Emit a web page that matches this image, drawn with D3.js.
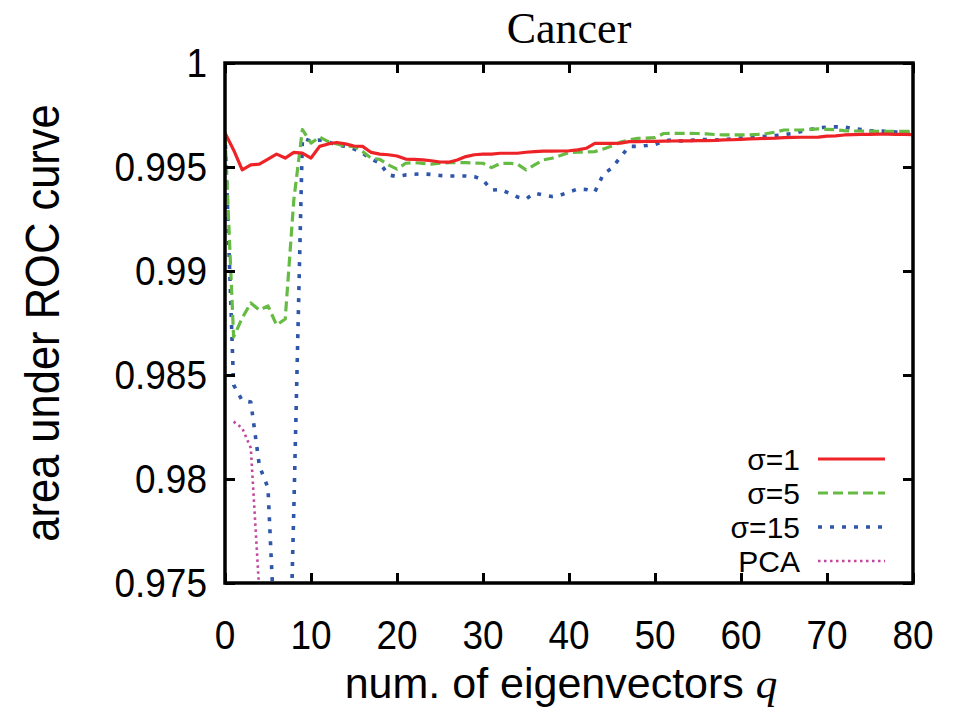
<!DOCTYPE html>
<html>
<head>
<meta charset="utf-8">
<script src="https://cdn.jsdelivr.net/npm/d3@7"></script>
<style>
  html, body { margin: 0; padding: 0; background: #fff; }
  svg { display: block; }
  .tick-label { font-family: "Liberation Sans", Arial, Helvetica, sans-serif; font-size: 37px; fill: #000; }
  .axis-title { font-family: "Liberation Sans", Arial, Helvetica, sans-serif; font-size: 43.5px; fill: #000; }
  .legend-text { font-family: "Liberation Sans", Arial, Helvetica, sans-serif; font-size: 30px; fill: #000; }
  .title { font-family: "Liberation Serif", "Times New Roman", serif; font-size: 44px; fill: #000; }
</style>
</head>
<body>
<svg id="chart" width="957" height="721"></svg>
<script>
// ---------------- DATA ----------------
const title = "Cancer";
const xTicks = [0, 10, 20, 30, 40, 50, 60, 70, 80];
const yTicks = [0.975, 0.98, 0.985, 0.99, 0.995, 1];
const yTickLabels = ["0.975", "0.98", "0.985", "0.99", "0.995", "1"];
const seriesNames = ["σ=1", "σ=5", "σ=15", "PCA"];

// q = 0..80 for the three sigma series
const qSigma = d3.range(0, 81);

const sigma1 = [
  0.99663, 0.99582, 0.99486, 0.99510, 0.99514, 0.99538, 0.99562, 0.99543, 0.99570, 0.99567,
  0.99543, 0.99599, 0.99611, 0.99618, 0.99611, 0.99601, 0.99599, 0.99570, 0.99562, 0.99559,
  0.99553, 0.99538, 0.99537, 0.99534, 0.99530, 0.99524, 0.99523, 0.99534, 0.99550, 0.99559,
  0.99562, 0.99562, 0.99566, 0.99566, 0.99566, 0.99571, 0.99574, 0.99576, 0.99576, 0.99577,
  0.99578, 0.99582, 0.99590, 0.99614, 0.99614, 0.99614, 0.99615, 0.99622, 0.99622, 0.99623,
  0.99623, 0.99624, 0.99625, 0.99626, 0.99626, 0.99627, 0.99627, 0.99628, 0.99630, 0.99631,
  0.99633, 0.99635, 0.99636, 0.99638, 0.99639, 0.99641, 0.99642, 0.99643, 0.99643, 0.99644,
  0.99648, 0.99650, 0.99654, 0.99656, 0.99657, 0.99657, 0.99658, 0.99658, 0.99657, 0.99657,
  0.99656
];

const sigma5 = [
  0.99654, 0.98683, 0.98774, 0.98846, 0.98812, 0.98832, 0.98740, 0.98769, 0.99341, 0.99680,
  0.99615, 0.99644, 0.99622, 0.99611, 0.99601, 0.99598, 0.99574, 0.99542, 0.99537, 0.99510,
  0.99490, 0.99518, 0.99521, 0.99517, 0.99514, 0.99519, 0.99521, 0.99521, 0.99521, 0.99519,
  0.99518, 0.99497, 0.99517, 0.99518, 0.99514, 0.99486, 0.99510, 0.99534, 0.99542, 0.99555,
  0.99569, 0.99571, 0.99572, 0.99574, 0.99587, 0.99601, 0.99620, 0.99630, 0.99638, 0.99639,
  0.99641, 0.99661, 0.99662, 0.99662, 0.99662, 0.99661, 0.99659, 0.99656, 0.99654, 0.99654,
  0.99654, 0.99655, 0.99657, 0.99661, 0.99668, 0.99678, 0.99678, 0.99678, 0.99681, 0.99683,
  0.99681, 0.99679, 0.99675, 0.99673, 0.99673, 0.99672, 0.99671, 0.99671, 0.99671, 0.99671,
  0.99671
];

const sigma15 = [
  0.99663, 0.98452, 0.98377, 0.98370, 0.98063, 0.97957, 0.97050, 0.96200, 0.97850, 0.99639,
  0.99625, 0.99630, 0.99620, 0.99606, 0.99599, 0.99587, 0.99567, 0.99538, 0.99519, 0.99462,
  0.99454, 0.99462, 0.99465, 0.99467, 0.99464, 0.99459, 0.99457, 0.99457, 0.99457, 0.99454,
  0.99438, 0.99389, 0.99392, 0.99375, 0.99356, 0.99346, 0.99375, 0.99365, 0.99358, 0.99365,
  0.99380, 0.99394, 0.99392, 0.99380, 0.99466, 0.99495, 0.99548, 0.99599, 0.99599, 0.99603,
  0.99608, 0.99625, 0.99630, 0.99625, 0.99627, 0.99632, 0.99632, 0.99630, 0.99632, 0.99635,
  0.99639, 0.99641, 0.99645, 0.99648, 0.99651, 0.99656, 0.99661, 0.99671, 0.99680, 0.99688,
  0.99692, 0.99693, 0.99692, 0.99685, 0.99680, 0.99675, 0.99673, 0.99672, 0.99668, 0.99668,
  0.99670
];

const qPCA = [1, 2, 3, 4];
const pca = [0.98276, 0.98245, 0.98149, 0.97452];

// ---------------- LAYOUT ----------------
const W = 957, H = 721;
const plot = { left: 225, right: 913, top: 63, bottom: 583 };
const vStretch = 1.1; // glyphs in the reference are slightly taller than wide

const svg = d3.select("#chart");

const x = d3.scaleLinear().domain([0, 80]).range([plot.left, plot.right]);
const y = d3.scaleLinear().domain([0.975, 1]).range([plot.bottom, plot.top]);

const styles = [
  { color: "#ee2328", width: 3.2, dash: null },
  { color: "#66bb44", width: 3.2, dash: "10,5" },
  { color: "#2f56aa", width: 3.6, dash: "4,8" },
  { color: "#c0499e", width: 2.6, dash: "2.5,3.5" }
];

const series = [
  { name: seriesNames[0], q: qSigma, v: sigma1, s: styles[0] },
  { name: seriesNames[1], q: qSigma, v: sigma5, s: styles[1] },
  { name: seriesNames[2], q: qSigma, v: sigma15, s: styles[2] },
  { name: seriesNames[3], q: qPCA, v: pca, s: styles[3] }
];

// clip
svg.append("defs").append("clipPath").attr("id", "clip")
  .append("rect")
  .attr("x", plot.left).attr("y", plot.top)
  .attr("width", plot.right - plot.left).attr("height", plot.bottom - plot.top);

const line = d3.line().x(d => x(d[0])).y(d => y(d[1]));
const gLines = svg.append("g").attr("clip-path", "url(#clip)");
series.slice().reverse().forEach(sr => {
  const pts = sr.q.map((q, i) => [q, sr.v[i]]);
  gLines.append("path")
    .attr("d", line(pts))
    .attr("fill", "none")
    .attr("stroke", sr.s.color)
    .attr("stroke-width", sr.s.width)
    .attr("stroke-linejoin", "round")
    .attr("stroke-dasharray", sr.s.dash);
});

// axes: ticks inward on all four sides
const tickLen = 10;
const axB = svg.append("g").attr("transform", `translate(0,${plot.bottom})`)
  .call(d3.axisBottom(x).tickValues(xTicks).tickSize(-tickLen).tickFormat(""));
const axT = svg.append("g").attr("transform", `translate(0,${plot.top})`)
  .call(d3.axisTop(x).tickValues(xTicks).tickSize(-tickLen).tickFormat(""));
const axL = svg.append("g").attr("transform", `translate(${plot.left},0)`)
  .call(d3.axisLeft(y).tickValues(yTicks).tickSize(-tickLen).tickFormat(""));
const axR = svg.append("g").attr("transform", `translate(${plot.right},0)`)
  .call(d3.axisRight(y).tickValues(yTicks).tickSize(-tickLen).tickFormat(""));
[axB, axT, axL, axR].forEach(a => {
  a.select(".domain").remove();
  a.selectAll(".tick line").attr("stroke", "#000").attr("stroke-width", 3);
});

// frame
svg.append("rect")
  .attr("x", plot.left).attr("y", plot.top)
  .attr("width", plot.right - plot.left).attr("height", plot.bottom - plot.top)
  .attr("fill", "none").attr("stroke", "#000").attr("stroke-width", 3.5);

// tick labels
svg.append("g").selectAll("text").data(xTicks).join("text")
  .attr("class", "tick-label")
  .attr("transform", d => `translate(${x(d)},649) scale(1,${vStretch})`)
  .attr("text-anchor", "middle")
  .text(d => d);

svg.append("g").selectAll("text").data(yTicks).join("text")
  .attr("class", "tick-label")
  .attr("transform", d => `translate(207,${y(d) + 14}) scale(1,${vStretch})`)
  .attr("text-anchor", "end")
  .text((d, i) => yTickLabels[i]);

// title
svg.append("text").attr("class", "title")
  .attr("x", (plot.left + plot.right) / 2).attr("y", 43)
  .attr("text-anchor", "middle").text(title);

// axis titles
const xt = svg.append("text").attr("class", "axis-title")
  .attr("x", (plot.left + plot.right) / 2 - 8).attr("y", 698)
  .style("font-size", "43px")
  .attr("text-anchor", "middle");
xt.append("tspan").text("num. of eigenvectors ");
xt.append("tspan").attr("font-family", "'Liberation Serif', 'Times New Roman', serif")
  .attr("font-style", "italic").text("q");

svg.append("text").attr("class", "axis-title")
  .attr("transform", `translate(59,${(plot.top + plot.bottom) / 2}) rotate(-90) scale(1,${vStretch})`)
  .attr("text-anchor", "middle")
  .text("area under ROC curve");

// legend
const legY0 = 459, legDy = 34;
const leg = svg.append("g");
series.forEach((sr, i) => {
  const yy = legY0 + i * legDy;
  leg.append("text").attr("class", "legend-text")
    .attr("x", 800).attr("y", yy + 11)
    .attr("text-anchor", "end").text(sr.name);
  leg.append("line")
    .attr("x1", 818).attr("x2", 885).attr("y1", yy).attr("y2", yy)
    .attr("stroke", sr.s.color).attr("stroke-width", sr.s.width)
    .attr("stroke-dasharray", sr.s.dash);
});
</script>
</body>
</html>
